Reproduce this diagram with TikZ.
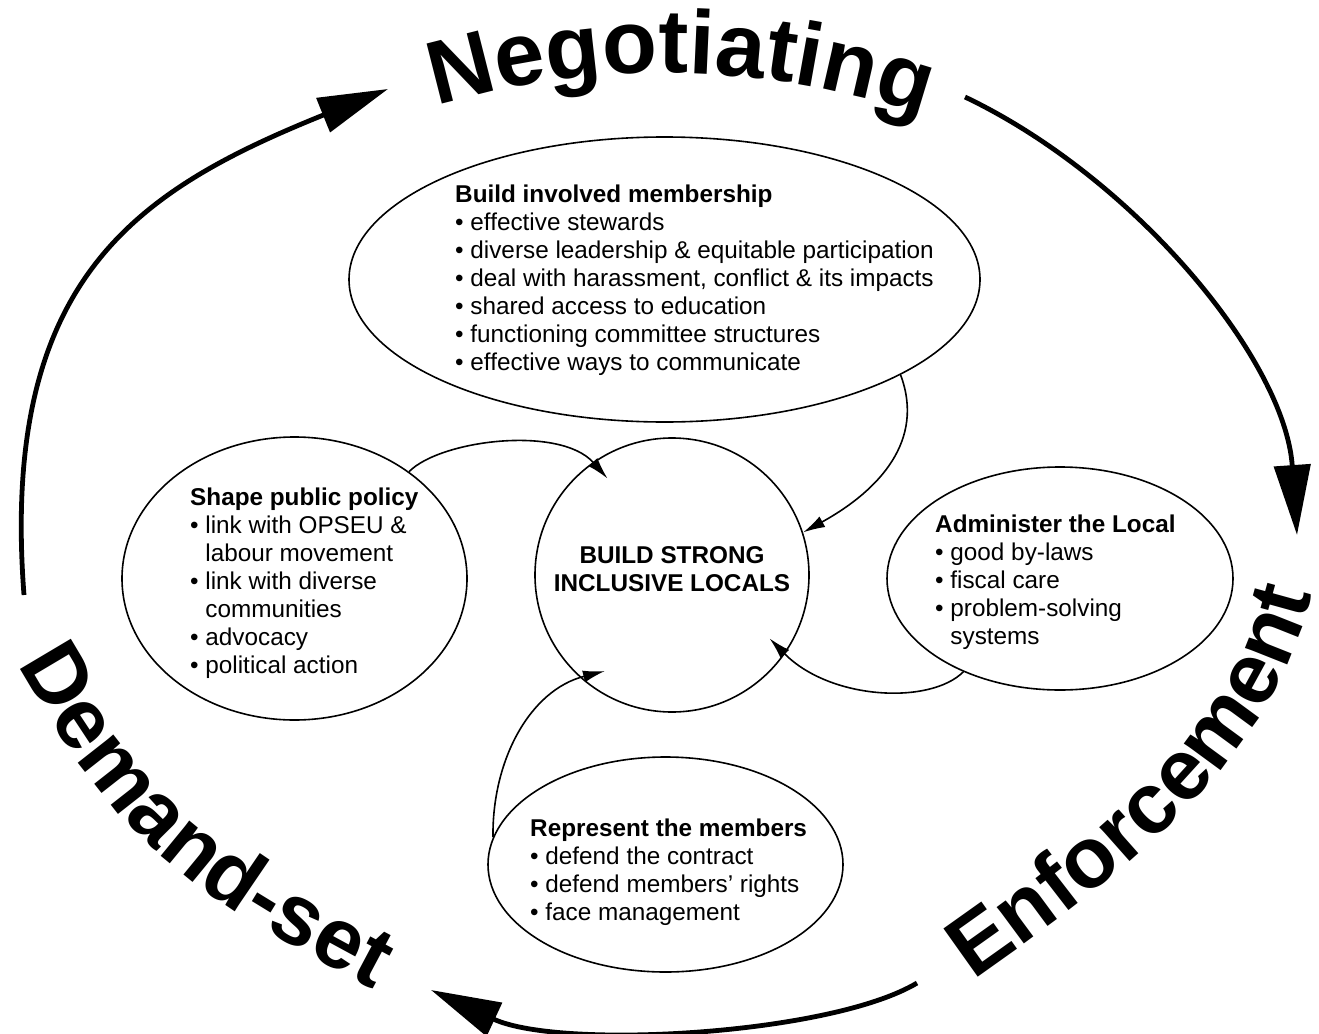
\documentclass[tikz,border=0pt]{standalone}
\usepackage{fontspec}
\setmainfont{Liberation Sans}
\usetikzlibrary{arrows.meta,shapes.geometric,decorations.text}
\newcommand\bul{\textbullet\ }
\newcommand\bulind{\hphantom{\textbullet\ }}
\newcommand\ringfont{\fontsize{86}{86}\selectfont\bfseries}
\newcommand\topfont{\fontsize{90}{90}\selectfont\bfseries}
\begin{document}
\begin{tikzpicture}[x=1pt,y=-1pt,
  bubble/.style={draw, line width=1.6pt, ellipse, inner sep=0pt},
  txt/.style={anchor=north west, inner sep=0pt, align=left, font=\fontsize{24.3}{28}\selectfont},
  conn/.style={line width=1.6pt, -{Latex[length=22pt,width=12pt]}},
  ringarrow/.style={line width=4.8pt, -{Triangle[length=70pt,width=36pt]}},
  bigletter/.style={inner sep=0pt, anchor=base, font=\topfont},
]
\fill[white] (0,0) rectangle (1319,1033);
\useasboundingbox (0,0) rectangle (1319,1033);

% bubbles
\node[bubble, minimum width=631pt, minimum height=285pt] (topE) at (664.5,279.5) {};
\node[bubble, minimum width=345pt, minimum height=283pt] (shapeE) at (294.5,578.5) {};
\node[bubble, minimum width=346pt, minimum height=223pt] (adminE) at (1060,578.5) {};
\node[bubble, minimum width=355pt, minimum height=215pt] (repE) at (665.5,864.5) {};
\node[draw, circle, line width=1.6pt, minimum size=274pt, inner sep=0pt] (hub) at (672,575) {};

% texts
\node[txt] (topT) at (455,182.4) {\strut\textbf{Build involved membership}\\
\bul effective stewards\\
\bul diverse leadership \& equitable participation\\
\bul deal with harassment, conflict \& its impacts\\
\bul shared access to education\\
\bul functioning committee structures\\
\bul effective ways to communicate};

\node[txt] (shapeT) at (190,485.4) {\strut\textbf{Shape public policy}\\
\bul link with OPSEU \&\\
\bulind labour movement\\
\bul link with diverse\\
\bulind communities\\
\bul advocacy\\
\bul political action};

\node[txt] (adminT) at (935,512.4) {\strut\textbf{Administer the Local}\\
\bul good by-laws\\
\bul fiscal care\\
\bul problem-solving\\
\bulind systems};

\node[txt] (repT) at (530,816.4) {\strut\textbf{Represent the members}\\
\bul defend the contract\\
\bul defend members' rights\\
\bul face management};

\node[inner sep=0pt, align=center, font=\fontsize{24.3}{28}\selectfont\bfseries] (hubT) at (672,569) {BUILD STRONG\\INCLUSIVE LOCALS};

% connectors
\draw[conn, shorten >=-22pt] (shapeE.43) .. controls (440,440) and (560,425) .. (hub.125.5);
\draw[conn] (topE.-22.5) .. controls (925,440) and (880,490) .. (hub.18);
\draw[conn, shorten >=-22pt] (adminE.224) .. controls (930,705) and (830,700) .. (hub.-35.3);
\draw[conn, shorten >=-26pt] (repE.171.4) .. controls (492,760) and (530,690) .. (hub.228);

% outer cycle
\coordinate (L0) at (24,595);
\coordinate (L1) at (321,116);
\coordinate (L2) at (388,89);
\draw[ringarrow] (L0) .. controls (0,280) and (136,191) .. (L1) -- (L2);
\coordinate (R0) at (965,97);
\coordinate (R1) at (1297,535);
\draw[ringarrow] (R0) .. controls (1135,178) and (1285,360) .. (R1);
\coordinate (B0) at (917,983);
\coordinate (B1) at (431,990);
\draw[ringarrow] (B0) .. controls (830,1035) and (560,1050) .. (B1);

% big curved words
\foreach \ch/\x/\y/\r [count=\i] in {N/468.0/97.6/14.25, e/524.3/85.5/10.13, g/576.3/78.0/6.37, o/630.9/73.7/2.44, t/673.4/73.0/-0.6, i/700.9/73.8/-2.57, a/738.2/76.4/-5.25, t/778.0/81.0/-8.12, i/805.2/85.4/-10.09, n/844.3/93.3/-12.95, g/897.3/107.5/-16.88}
  \node[bigletter, rotate=\r] (neg\i) at (\x,\y) {\ch};

\coordinate (E0) at (961.6,988.5);
\coordinate (E1) at (978,977);
\coordinate (E2) at (1310.5,600);
\coordinate (E3) at (1315.3,580.6);
\path[decorate, decoration={text along path, text={|\ringfont|Enforcement}, text align=center}]
  (E0) -- (E1) .. controls (1117,879) and (1269,765) .. (E2) -- (E3);

\coordinate (D0) at (10.2,652.1);
\coordinate (D1) at (22.7,673.7);
\coordinate (D2) at (364,984.3);
\coordinate (D3) at (386.1,996);
\path[decorate, decoration={text along path, text={|\ringfont|Demand-set}, text align=center}]
  (D0) -- (D1) .. controls (122.7,846.9) and (187.4,890.5) .. (D2) -- (D3);
\end{tikzpicture}
\end{document}
